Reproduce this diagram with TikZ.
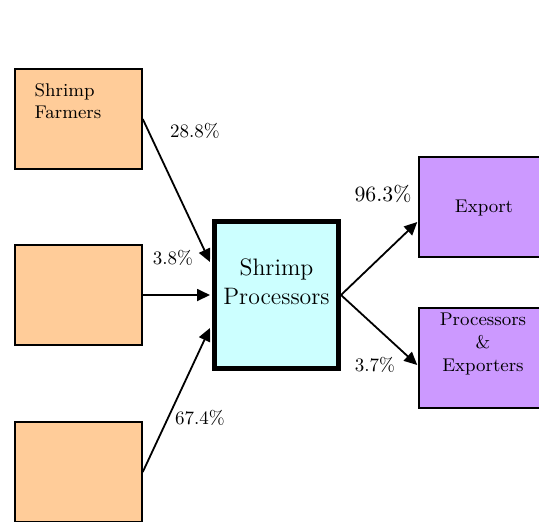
\documentclass[tikz,border=0pt]{standalone}
\usetikzlibrary{positioning,arrows.meta,calc}
\definecolor{farmfill}{HTML}{FFCC99}
\definecolor{procfill}{HTML}{CCFFFF}
\definecolor{exportfill}{HTML}{CC99FF}

\begin{document}
\begin{tikzpicture}[x=0.5pt,y=-0.5pt,
      farmbox/.style={draw=black,line width=0.75pt,fill=farmfill,
                  minimum width=63.5pt,minimum height=50pt,inner sep=0pt},
      procbox/.style={draw=black,line width=2.5pt,fill=procfill,
                  minimum width=62pt,minimum height=73.5pt,inner sep=0pt},
      exportbox/.style={draw=black,line width=0.75pt,fill=exportfill,
                  minimum width=64pt,minimum height=50pt,inner sep=0pt},
      boxtxt/.style={font=\fontsize{9.2}{11}\selectfont,align=left,inner sep=0pt},
      proctxt/.style={font=\fontsize{11.9}{14.5}\selectfont,align=center,inner sep=0pt},
      exptxt/.style={font=\fontsize{9.2}{11.5}\selectfont,align=center,inner sep=0pt},
      pct/.style={font=\fontsize{9.5}{11}\selectfont,inner sep=1pt},
      pctbig/.style={font=\fontsize{10.9}{13}\selectfont,inner sep=1pt},
      arr/.style={-{Triangle[length=6.5pt,width=6pt]},line width=0.9pt,black}]
    \clip (0,0) rectangle (539,521);
    % suppliers
    \node[farmbox] (farm1) at (78.5,119) {};
    \node[boxtxt,anchor=north west] (farm1txt) at ($(farm1.north west)+(20,15)$) {Shrimp\\Farmers};
    \node[farmbox] (farm2) at (78.5,295) {};
    \node[farmbox] (farm3) at (78.5,472) {};
    % processors
    \node[procbox] (proc) at (276.5,295) {};
    \node[proctxt] (proctxt) at (276.5,282) {Shrimp\\Processors};
    % destinations
    \node[exportbox] (exp) at (483,207) {};
    \node[exptxt] (exptxt) at (484,208) {Export};
    \node[exportbox] (pex) at (483,358) {};
    \node[exptxt] (pextxt) at (483,344) {Processors\\\&\\Exporters};
    % flows in
    \draw[arr] (farm1.east) -- ($(proc.west)+(-2,-33)$);
    \draw[arr] (farm2.east) -- ($(proc.west)+(-2,0)$);
    \draw[arr] (farm3.east) -- ($(proc.west)+(-2,33)$);
    % flows out
    \draw[arr] (proc.east) -- ($(exp.west)+(-1,15)$);
    \draw[arr] (proc.east) -- ($(pex.west)+(-1,7)$);
    % shares
    \node[pct] (p1) at (195,131) {28.8\%};
    \node[pct] (p2) at (173,258) {3.8\%};
    \node[pct] (p3) at (200,418) {67.4\%};
    \node[pctbig] (p4) at (383,194) {96.3\%};
    \node[pct] (p5) at (375,365) {3.7\%};
\end{tikzpicture}
\end{document}
